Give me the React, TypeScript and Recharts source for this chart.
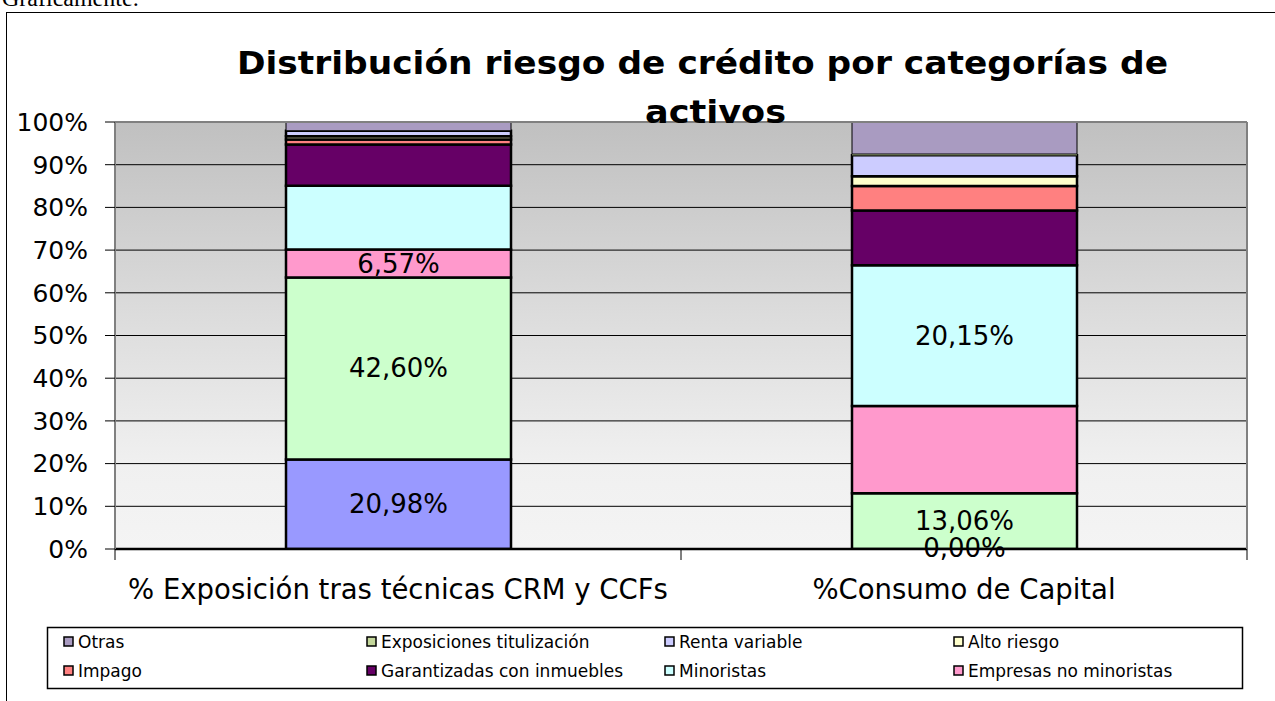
import React from "react";
import {
  BarChart,
  Bar,
  XAxis,
  YAxis,
  CartesianGrid,
  LabelList,
  ReferenceLine,
} from "recharts";

// ---------- DATA ----------
const categories = [
  "% Exposición tras técnicas CRM y CCFs",
  "%Consumo de Capital",
];

// stack order bottom -> top
const instituciones = [20.98, 0.0];
const administraciones = [42.6, 13.06];
const empresasNoMinoristas = [6.57, 20.44];
const minoristas = [14.91, 32.94];
const garantizadas = [9.67, 12.86];
const impago = [1.15, 5.7];
const altoRiesgo = [0.77, 2.3];
const rentaVariable = [1.29, 4.9];
const titulizacion = [0.0, 0.3];
const otras = [2.06, 7.5];

const institucionesLabels = ["20,98%", "0,00%"];
const administracionesLabels = ["42,60%", "13,06%"];
const empresasLabels = ["6,57%", ""];
const minoristasLabels = ["", "20,15%"];

const yTicks = [0, 10, 20, 30, 40, 50, 60, 70, 80, 90, 100];

const legendNames = [
  "Otras",
  "Exposiciones titulización",
  "Renta variable",
  "Alto riesgo",
  "Impago",
  "Garantizadas con inmuebles",
  "Minoristas",
  "Empresas no minoristas",
];

const titleLines = [
  "Distribución riesgo de crédito por categorías de",
  "activos",
];

// ---------- STYLE ----------
const COLORS: Record<string, string> = {
  instituciones: "#9999FF",
  administraciones: "#CCFFCC",
  empresas: "#FF99CC",
  minoristas: "#CCFFFF",
  garantizadas: "#660066",
  impago: "#FF8080",
  alto: "#FFFFCC",
  renta: "#CCCCFF",
  titulizacion: "#C4D79B",
  otras: "#A99BC1",
};

const legendColors = [
  COLORS.otras,
  COLORS.titulizacion,
  COLORS.renta,
  COLORS.alto,
  COLORS.impago,
  COLORS.garantizadas,
  COLORS.minoristas,
  COLORS.empresas,
];

const FONT = "'DejaVu Sans', Verdana, sans-serif";
const W = 1275;
const H = 701;
const PLOT_LEFT = 115;
const PLOT_RIGHT = 1247;
const PLOT_TOP = 122;
const PLOT_BOTTOM = 549;
const PLOT_W = PLOT_RIGHT - PLOT_LEFT;

const data = categories.map((name, i) => ({
  name,
  instituciones: instituciones[i],
  administraciones: administraciones[i],
  empresas: empresasNoMinoristas[i],
  minoristas: minoristas[i],
  garantizadas: garantizadas[i],
  impago: impago[i],
  alto: altoRiesgo[i],
  renta: rentaVariable[i],
  titulizacion: titulizacion[i],
  otras: otras[i],
  instLabel: institucionesLabels[i],
  adminLabel: administracionesLabels[i],
  empLabel: empresasLabels[i],
  minLabel: minoristasLabels[i],
}));

const XTick = (props: any) => {
  const { x, payload, index } = props;
  const half = PLOT_W / 4;
  return (
    <g>
      <line x1={x - half} x2={x - half} y1={PLOT_BOTTOM} y2={PLOT_BOTTOM + 11} stroke="#000" strokeWidth={1} />
      {index === categories.length - 1 && (
        <line x1={x + half} x2={x + half} y1={PLOT_BOTTOM} y2={PLOT_BOTTOM + 11} stroke="#000" strokeWidth={1} />
      )}
      <text x={x} y={PLOT_BOTTOM + 50} textAnchor="middle" fontFamily={FONT} fontSize={27.5} fill="#000">
        {payload.value}
      </text>
    </g>
  );
};

const LABEL_FS = 26;

// Label for the green segment; also draws the zero-height segment's label
// (the series below it) at this bar's bottom edge.
const AdminLabel = (props: any) => {
  const { x, y, width, height, value, index } = props;
  const cx = x + width / 2;
  const out: any[] = [];
  if (value) {
    out.push(
      <text key="a" x={cx} y={y + height / 2} textAnchor="middle" dominantBaseline="central" fontFamily={FONT} fontSize={LABEL_FS} fill="#000">
        {value}
      </text>
    );
  }
  if (instituciones[index] === 0 && institucionesLabels[index]) {
    out.push(
      <text key="b" x={cx} y={y + height - 1} textAnchor="middle" dominantBaseline="central" fontFamily={FONT} fontSize={LABEL_FS} fill="#000">
        {institucionesLabels[index]}
      </text>
    );
  }
  return <g>{out}</g>;
};

const labelStyle = { fill: "#000", fontSize: LABEL_FS, fontFamily: FONT } as any;

export default function App() {
  const series: { key: string; label?: string; sw: number }[] = [
    { key: "instituciones", label: "instLabel", sw: 2.5 },
    { key: "administraciones", sw: 2.5 },
    { key: "empresas", label: "empLabel", sw: 2.5 },
    { key: "minoristas", label: "minLabel", sw: 2.5 },
    { key: "garantizadas", sw: 2.5 },
    { key: "impago", sw: 2.5 },
    { key: "alto", sw: 2.5 },
    { key: "renta", sw: 2.5 },
    { key: "titulizacion", sw: 0 },
    { key: "otras", sw: 1 },
  ];

  const legendCols = [67, 370, 668, 957];
  const legendRows = [642, 671];

  return (
    <div style={{ position: "absolute", left: 0, top: 0, width: W, height: H, background: "#fff", overflow: "hidden" }}>
      <BarChart
        width={W}
        height={H}
        data={data}
        margin={{ top: PLOT_TOP, right: 0, bottom: 92, left: 0 }}
        barSize={225}
      >
        <defs>
          <linearGradient id="plotBg" x1="0" y1="0" x2="0" y2="1">
            <stop offset="0%" stopColor="#C0C0C0" />
            <stop offset="45%" stopColor="#DCDCDC" />
            <stop offset="80%" stopColor="#F0F0F0" />
            <stop offset="100%" stopColor="#F4F4F4" />
          </linearGradient>
        </defs>
        <CartesianGrid
          vertical={false}
          stroke="#000"
          strokeWidth={1}
          fill="url(#plotBg)"
          fillOpacity={1}
        />
        <XAxis
          dataKey="name"
          xAxisId={0}
          height={60}
          axisLine={{ stroke: "#000", strokeWidth: 2.5 }}
          tickLine={false}
          tickSize={0}
          interval={0}
          tick={<XTick />}
        />
        <YAxis
          yAxisId={0}
          width={PLOT_LEFT}
          domain={[0, 100]}
          ticks={yTicks}
          interval={0}
          allowDataOverflow
          tickFormatter={(v: number) => `${v}%`}
          axisLine={{ stroke: "#808080", strokeWidth: 2 }}
          tickLine={{ stroke: "#000", strokeWidth: 1 }}
          tickSize={10}
          tickMargin={17}
          tick={{ fill: "#000", fontSize: 25, fontFamily: FONT }}
        />
        <YAxis
          yAxisId="right"
          orientation="right"
          width={W - PLOT_RIGHT}
          domain={[0, 100]}
          tick={false}
          tickLine={false}
          axisLine={{ stroke: "#808080", strokeWidth: 2 }}
        />
        <ReferenceLine y={100} yAxisId={0} stroke="#808080" strokeWidth={2} />
        {series.map((s) => (
          <Bar
            key={s.key}
            dataKey={s.key}
            stackId="a"
            yAxisId={0}
            fill={COLORS[s.key]}
            stroke="#000"
            strokeWidth={s.sw}
            isAnimationActive={false}
          >
            {s.label && (
              <LabelList dataKey={s.label} position="center" style={labelStyle} />
            )}
            {s.key === "administraciones" && (
              <LabelList dataKey="adminLabel" content={<AdminLabel />} />
            )}
          </Bar>
        ))}
      </BarChart>

      <svg
        width={W}
        height={H}
        style={{ position: "absolute", left: 0, top: 0, pointerEvents: "none" }}
      >
        <text x={2} y={6} fontFamily="'Liberation Serif', 'Times New Roman', serif" fontSize={24} fill="#000">
          Gráficamente:
        </text>
        <line x1={6.5} y1={12} x2={6.5} y2={H} stroke="#000" strokeWidth={1} />
        <line x1={6} y1={12.5} x2={W} y2={12.5} stroke="#000" strokeWidth={1} />
        <text x={702.5} y={74} textAnchor="middle" fontFamily={FONT} fontWeight="bold" fontSize={32} textLength={931} lengthAdjust="spacingAndGlyphs" fill="#000">
          {titleLines[0]}
        </text>
        <text x={715.5} y={123} textAnchor="middle" fontFamily={FONT} fontWeight="bold" fontSize={32} textLength={141} lengthAdjust="spacingAndGlyphs" fill="#000">
          {titleLines[1]}
        </text>
        <rect x={47.5} y={627.5} width={1195} height={61} fill="#fff" stroke="#000" strokeWidth={1.5} />
        {legendNames.map((n, i) => {
          const cx = legendCols[i % 4];
          const cy = legendRows[Math.floor(i / 4)];
          return (
            <g key={n}>
              <rect x={cx - 3} y={cy - 5} width={9} height={9} fill={legendColors[i]} stroke="#000" strokeWidth={1.5} />
              <text x={cx + 11} y={cy + 6} fontFamily={FONT} fontSize={17} fill="#000">
                {n}
              </text>
            </g>
          );
        })}
      </svg>
    </div>
  );
}
